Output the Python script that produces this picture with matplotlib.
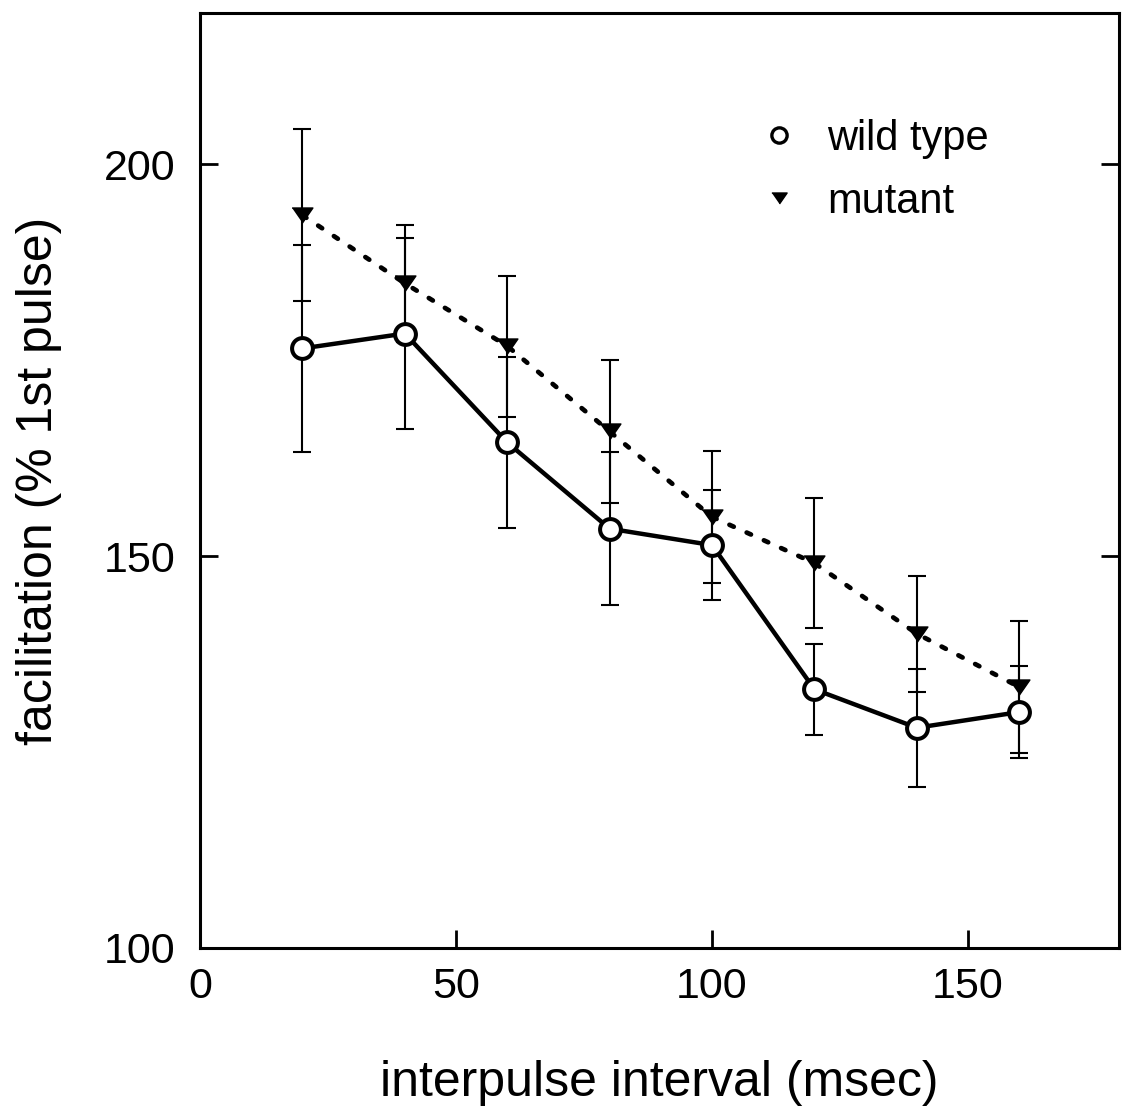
import matplotlib
matplotlib.use('Agg')
import matplotlib.pyplot as plt
from matplotlib.lines import Line2D

plt.rcParams['font.family'] = ['Liberation Sans', 'DejaVu Sans']

# interpulse interval (msec)
interval = [20, 40, 60, 80, 100, 120, 140, 160]

# facilitation (% of 1st pulse)
wild_type = [176.5, 178.4, 164.5, 153.5, 151.4, 133.0, 128.1, 130.1]
wild_type_err = [13.2, 12.2, 10.9, 9.8, 7.0, 5.8, 7.5, 5.9]
mutant = [193.5, 184.8, 176.8, 165.9, 155.0, 149.1, 140.1, 133.3]
mutant_err = [11.0, 7.5, 9.0, 9.1, 8.4, 8.3, 7.4, 8.4]

x_ticks = [0, 50, 100, 150]
y_ticks = [100, 150, 200]

fig = plt.figure(figsize=(11.24, 11.09), dpi=100)
ax = fig.add_axes([0.178, 0.1452, 0.8176, 0.8431])

# flattened down-pointing triangle
tri = [(-1, 0.72), (1, 0.72), (0, -0.72)]

# mutant: dotted line, small filled triangles
ax.errorbar(interval, mutant, yerr=mutant_err, fmt='none', ecolor='black',
            elinewidth=1.5, capsize=6.5, capthick=1.5, zorder=2)
ax.plot(interval, mutant, color='black', lw=3.4, linestyle=(0, (1.0, 3.0)),
        dash_capstyle='round', zorder=3)
ax.plot(interval, mutant, linestyle='none', marker=tri, markersize=15,
        color='black', zorder=4)

# wild type: solid line, open circles
ax.errorbar(interval, wild_type, yerr=wild_type_err, fmt='none', ecolor='black',
            elinewidth=1.5, capsize=6.5, capthick=1.5, zorder=2)
ax.plot(interval, wild_type, color='black', lw=3.2, marker='o', markersize=15,
        markerfacecolor='white', markeredgecolor='black', markeredgewidth=2.9,
        zorder=5)

ax.set_xlim(0, 179.5)
ax.set_ylim(100, 219.3)
ax.set_xticks(x_ticks)
ax.set_yticks(y_ticks)
ax.tick_params(axis='both', direction='in', length=13, width=2, labelsize=31)
ax.tick_params(axis='x', pad=14)
ax.tick_params(axis='y', pad=18, right=True)
for s in ax.spines.values():
    s.set_linewidth(2.2)

ax.set_xlabel('interpulse interval (msec)', fontsize=36, labelpad=38)
ax.set_ylabel('facilitation (% 1st pulse)', fontsize=36, labelpad=30)

handles = [
    Line2D([], [], linestyle='none', marker='o', markersize=11,
           markerfacecolor='white', markeredgecolor='black', markeredgewidth=2.4),
    Line2D([], [], linestyle='none', marker=tri, markersize=11, color='black'),
]
ax.legend(handles, ['wild type', 'mutant'], loc='upper left',
          bbox_to_anchor=(0.6744, 0.893), bbox_transform=fig.transFigure,
          frameon=False, fontsize=30, handlelength=1.0, handletextpad=0.65,
          labelspacing=0.55, borderpad=0, borderaxespad=0)

plt.savefig('out.png', dpi=100)
